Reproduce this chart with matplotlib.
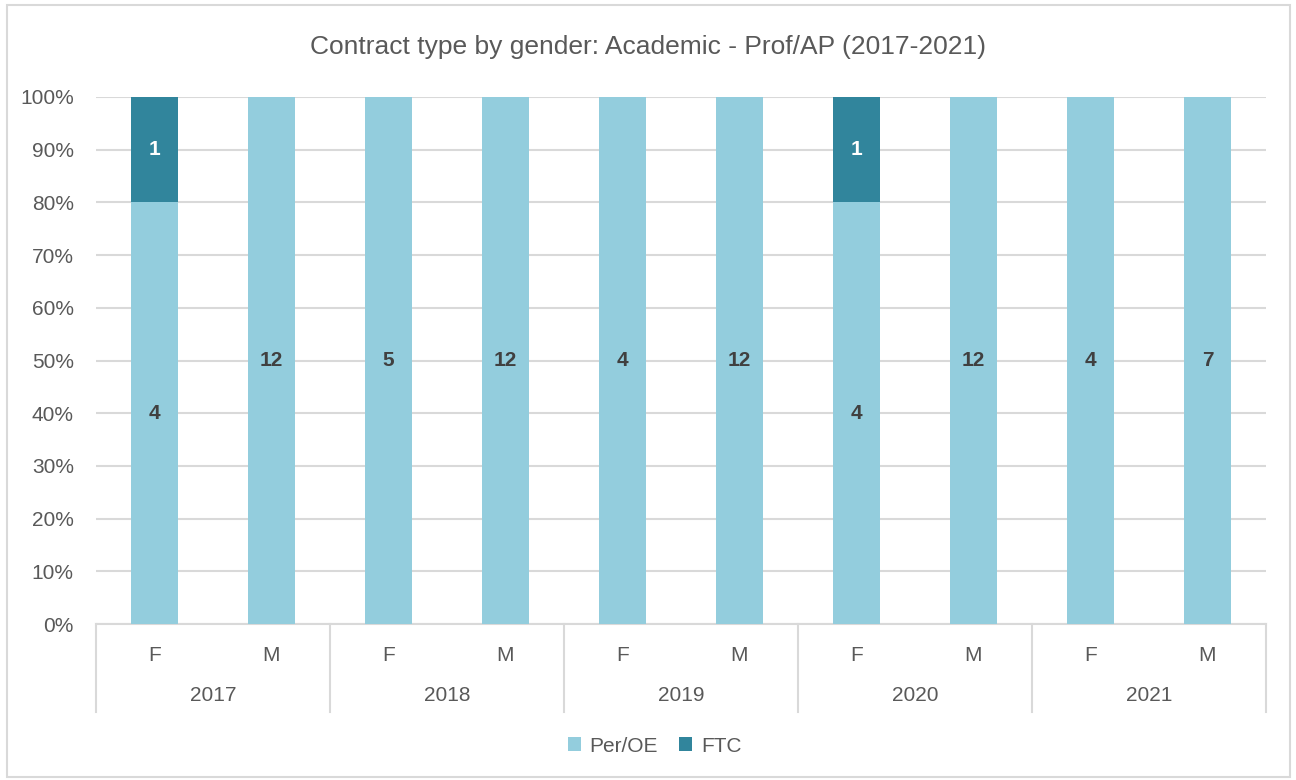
import numpy as np
import matplotlib.pyplot as plt
from matplotlib.patches import Rectangle
from matplotlib.transforms import blended_transform_factory

plt.rcParams['font.family'] = ['Liberation Sans Narrow', 'Liberation Sans', 'DejaVu Sans']

# data (head counts)
years = ['2017', '2018', '2019', '2020', '2021']
genders = ['F', 'M']
per_oe = [4, 12, 5, 12, 4, 12, 4, 12, 4, 7]
ftc = [1, 0, 0, 0, 0, 0, 1, 0, 0, 0]

light = '#93CDDD'
dark = '#31859C'
grey_txt = '#595959'
line_col = '#D9D9D9'

per_oe = np.array(per_oe, dtype=float)
ftc = np.array(ftc, dtype=float)
totals = per_oe + ftc
per_pct = per_oe / totals * 100
ftc_pct = ftc / totals * 100

fig = plt.figure(figsize=(12.96, 7.8), dpi=100)
fig.patches.append(Rectangle((7 / 1296, 3 / 780), 1283 / 1296, 772 / 780, transform=fig.transFigure,
                             fill=False, edgecolor=line_col, linewidth=1.5))
ax = fig.add_axes([96 / 1296, 156 / 780, 1170 / 1296, 527 / 780])

x = np.arange(len(per_oe))
ax.bar(x, per_pct, width=0.4, color=light, label='Per/OE', zorder=3)
ax.bar(x, ftc_pct, width=0.4, bottom=per_pct, color=dark, label='FTC', zorder=3)

# value labels
for i in range(len(x)):
    if per_oe[i] > 0:
        ax.text(x[i], per_pct[i] / 2, f"{int(per_oe[i])}", ha='center', va='center',
                fontsize=15, fontweight='bold', color='#404040', zorder=4)
    if ftc[i] > 0:
        ax.text(x[i], per_pct[i] + ftc_pct[i] / 2, f"{int(ftc[i])}", ha='center', va='center',
                fontsize=15, fontweight='bold', color='white', zorder=4)

ax.set_xlim(-0.5, len(x) - 0.5)
ax.set_ylim(0, 100)
ax.set_yticks(np.arange(0, 101, 10))
ax.set_yticklabels([f"{v}%" for v in range(0, 101, 10)], fontsize=15, color=grey_txt)
ax.yaxis.grid(True, color=line_col, linewidth=1.5, zorder=0)
ax.set_xticks([])
ax.tick_params(axis='y', length=0, pad=16)
for s in ['top', 'right', 'left']:
    ax.spines[s].set_visible(False)
ax.spines['bottom'].set_color(line_col)
ax.spines['bottom'].set_linewidth(1.5)

# two-level category axis
trans = blended_transform_factory(ax.transData, ax.transAxes)
for i in range(len(x)):
    ax.text(x[i], -0.059, genders[i % 2], transform=trans, ha='center', va='center',
            fontsize=15, color=grey_txt)
for j, yr in enumerate(years):
    ax.text(2 * j + 0.5, -0.135, yr, transform=trans, ha='center', va='center',
            fontsize=15, color=grey_txt)
for b in np.arange(-0.5, len(x), 2):
    ax.plot([b, b], [0, -0.167], transform=trans, color=line_col, linewidth=1.5, clip_on=False)

fig.text(0.5, 1 - 47 / 780, 'Contract type by gender: Academic - Prof/AP (2017-2021)',
         ha='center', va='center', fontsize=19, color=grey_txt)

fig.legend(loc='center', bbox_to_anchor=(0.505, 34 / 780), ncol=2, frameon=False,
           fontsize=15, handlelength=0.65, handleheight=0.65, handletextpad=0.4,
           columnspacing=1.0, labelcolor=grey_txt)

fig.savefig('out.png', dpi=100)
